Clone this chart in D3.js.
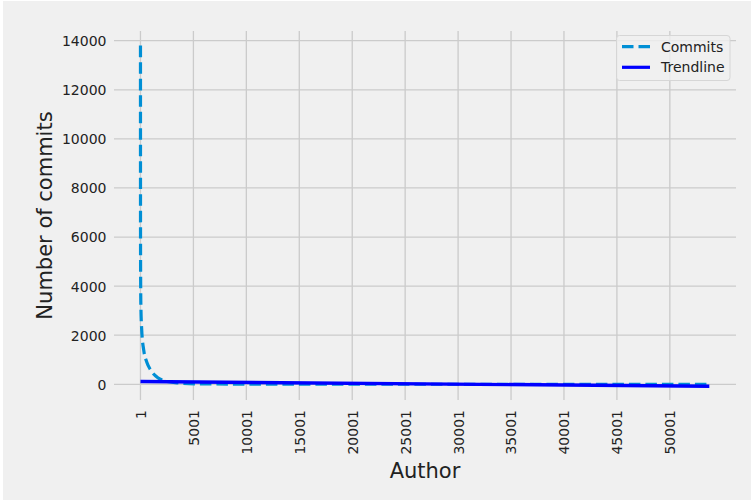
<!DOCTYPE html>
<html>
<head>
<meta charset="utf-8">
<script src="https://cdn.jsdelivr.net/npm/d3@7"></script>
<style>
  html, body { margin: 0; padding: 0; background: #ffffff; }
  svg { display: block; }
  text { font-family: "DejaVu Sans", sans-serif; fill: #222222; }
</style>
</head>
<body>
<svg id="chart" width="751" height="504"></svg>
<script>
// ---- data ----
const commitAuthors = [1, 2, 3, 5, 10, 20, 30, 120, 310, 600, 975, 1640, 2300, 3530, 5140, 7000, 10000, 15000, 20000, 25000, 30000, 40000, 53730];
const commitValues  = [13800, 9500, 7800, 6200, 5000, 4000, 3420, 2200, 1385, 900, 570, 265, 140, 60, 20, 12, 7, 4, 3, 2, 2, 1, 1];
const trendAuthors = [1, 53730];
const trendValues  = [115, -80];
const xTickValues = [1, 5001, 10001, 15001, 20001, 25001, 30001, 35001, 40001, 45001, 50001];
const yTickValues = [0, 2000, 4000, 6000, 8000, 10000, 12000, 14000];
const seriesNames = ["Commits", "Trendline"];
const xLabel = "Author";
const yLabel = "Number of commits";

// ---- layout ----
const svg = d3.select("#chart");
const W = 751, H = 504;
const plot = { left: 114, right: 736, top: 31, bottom: 400 };

svg.append("rect").attr("x", 3).attr("y", 1).attr("width", W - 3).attr("height", 499).attr("fill", "#f0f0f0");

const x = d3.scaleLinear().domain([-2500, 56250]).range([plot.left, plot.right]);
const y = d3.scaleLinear().domain([-640, 14395]).range([plot.bottom, plot.top]);

// grid
const grid = svg.append("g");
grid.selectAll("line.h").data(yTickValues).join("line")
  .attr("x1", plot.left).attr("x2", plot.right)
  .attr("y1", d => y(d)).attr("y2", d => y(d))
  .attr("stroke", "#cbcbcb").attr("stroke-width", 1.3);
grid.selectAll("line.v").data(xTickValues).join("line")
  .attr("y1", plot.top).attr("y2", plot.bottom)
  .attr("x1", d => x(d)).attr("x2", d => x(d))
  .attr("stroke", "#cbcbcb").attr("stroke-width", 1.3);

// axes (tick labels via d3 axes, no domain/tick lines)
const yAxis = d3.axisLeft(y).tickValues(yTickValues).tickSize(0).tickPadding(0).tickFormat(d3.format("d"));
const yg = svg.append("g").attr("transform", `translate(${plot.left - 7.5},0)`).call(yAxis);
yg.select(".domain").remove();
yg.selectAll("text").attr("font-size", "14px").attr("font-family", "DejaVu Sans").attr("fill", "#222").attr("x", 0).attr("dy", "0.35em");

const xAxis = d3.axisBottom(x).tickValues(xTickValues).tickSize(0).tickFormat(d3.format("d"));
const xg = svg.append("g").attr("transform", `translate(0,${plot.bottom + 10})`).call(xAxis);
xg.select(".domain").remove();
xg.selectAll("text")
  .attr("font-size", "14px").attr("font-family", "DejaVu Sans").attr("fill", "#222")
  .attr("transform", "rotate(-90)")
  .attr("text-anchor", "end")
  .attr("x", 0).attr("y", 0).attr("dy", "0.35em");

// axis labels
svg.append("text").attr("x", (plot.left + plot.right) / 2).attr("y", 478)
  .attr("text-anchor", "middle").attr("font-size", "21px").text(xLabel);
svg.append("text").attr("transform", `translate(51.5,${(plot.top + plot.bottom) / 2}) rotate(-90)`)
  .attr("text-anchor", "middle").attr("font-size", "21px").text(yLabel);

// lines
const commitData = commitAuthors.map((a, i) => [a, commitValues[i]]);
const trendData = trendAuthors.map((a, i) => [a, trendValues[i]]);
const line = d3.line().x(d => x(d[0])).y(d => y(d[1])).curve(d3.curveMonotoneX);

svg.append("path").datum(commitData).attr("d", line)
  .attr("fill", "none").attr("stroke", "#008fd5").attr("stroke-width", 3.2)
  .attr("stroke-dasharray", "11.5,5");
svg.append("path").datum(trendData).attr("d", d3.line().x(d => x(d[0])).y(d => y(d[1])))
  .attr("fill", "none").attr("stroke", "#0000ff").attr("stroke-width", 3.4);

// legend
const lg = svg.append("g");
lg.append("rect").attr("x", 616.5).attr("y", 35.5).attr("width", 113.5).attr("height", 45)
  .attr("rx", 3).attr("fill", "#f0f0f0").attr("fill-opacity", 0.8)
  .attr("stroke", "#d6d6d6").attr("stroke-width", 1);
const legendItems = [
  { name: seriesNames[0], color: "#008fd5", dash: "11.5,5", y: 46.7 },
  { name: seriesNames[1], color: "#0000ff", dash: null, y: 67.3 }
];
legendItems.forEach(it => {
  const l = lg.append("line").attr("x1", 622).attr("x2", 650).attr("y1", it.y).attr("y2", it.y)
    .attr("stroke", it.color).attr("stroke-width", 3.2);
  if (it.dash) l.attr("stroke-dasharray", it.dash);
  lg.append("text").attr("x", 661).attr("y", it.y).attr("dy", "0.35em")
    .attr("font-size", "14px").text(it.name);
});
</script>
</body>
</html>
